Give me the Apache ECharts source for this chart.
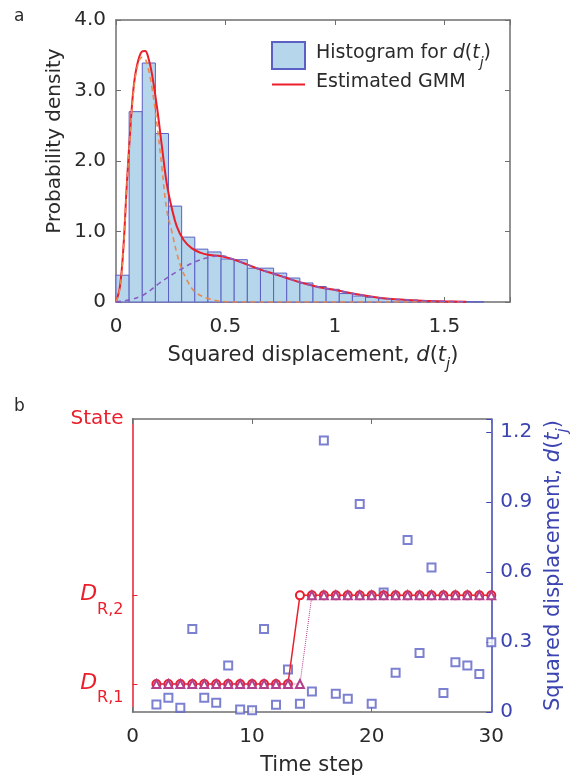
<!DOCTYPE html>
<html><head><meta charset="utf-8">
<script src="https://cdn.jsdelivr.net/npm/echarts@6/dist/echarts.min.js"></script>
<style>html,body{margin:0;padding:0;background:#fff}#c{width:579px;height:777px}</style>
</head><body><div id="c"></div>
<script>
// ---------- Panel a data ----------
const binWidth = 0.06;
const histValues = [0.38, 2.70, 3.39, 2.39, 1.36, 0.92, 0.75, 0.71, 0.61, 0.60, 0.48, 0.48, 0.41, 0.34, 0.27,
                    0.22, 0.18, 0.12, 0.085, 0.066, 0.047, 0.035, 0.025, 0.02, 0.012, 0.008, 0.005, 0.004];
const gmmX     = [0, 0.018, 0.034, 0.049, 0.064, 0.079, 0.095, 0.118, 0.133, 0.148, 0.164, 0.187, 0.21, 0.232, 0.255, 0.278, 0.309, 0.347, 0.385, 0.42, 0.48, 0.54, 0.60, 0.66, 0.72, 0.78, 0.84, 0.90, 0.96, 1.0, 1.1, 1.2, 1.3, 1.4, 1.5, 1.6];
const gmmTotal = [0, 0.22, 0.78, 1.64, 2.39, 3.0, 3.34, 3.55, 3.56, 3.46, 3.24, 2.77, 2.20, 1.68, 1.33, 1.07, 0.88, 0.76, 0.70, 0.67, 0.65, 0.60, 0.53, 0.46, 0.40, 0.34, 0.28, 0.23, 0.19, 0.17, 0.11, 0.06, 0.035, 0.018, 0.008, 0.002];
const comp1X = [0, 0.018, 0.034, 0.049, 0.064, 0.079, 0.095, 0.118, 0.133, 0.148, 0.164, 0.187, 0.21, 0.232, 0.255, 0.278, 0.30, 0.324, 0.35, 0.37, 0.42, 0.48, 0.55, 0.8, 1.2, 1.6];
const comp1Y = [0, 0.2, 0.75, 1.6, 2.35, 2.95, 3.3, 3.47, 3.45, 3.3, 3.05, 2.53, 1.9, 1.30, 1.0, 0.69, 0.47, 0.31, 0.18, 0.12, 0.05, 0.01, 0, 0, 0, 0];
const comp2X = [0, 0.06, 0.125, 0.2, 0.278, 0.355, 0.42, 0.48, 0.54, 0.60, 0.66, 0.72, 0.78, 0.84, 0.90, 0.96, 1.0, 1.1, 1.2, 1.3, 1.4, 1.5, 1.6];
const comp2Y = [0, 0.03, 0.1, 0.27, 0.43, 0.56, 0.63, 0.655, 0.60, 0.53, 0.46, 0.40, 0.34, 0.28, 0.23, 0.19, 0.17, 0.11, 0.06, 0.035, 0.018, 0.008, 0.002];

// ---------- Panel b data ----------
const timeSteps = [2,3,4,5,6,7,8,9,10,11,12,13,14,15,16,17,18,19,20,21,22,23,24,25,26,27,28,29,30];
const dispValues = [0.032, 0.061, 0.018, 0.356, 0.061, 0.040, 0.199, 0.011, 0.007, 0.356, 0.031, 0.182, 0.035, 0.088,
                    1.164, 0.078, 0.057, 0.892, 0.035, 0.512, 0.168, 0.737, 0.253, 0.619, 0.081, 0.213, 0.199, 0.163, 0.299];
const stateLevels = [0.12, 0.50];           // D_R,1 , D_R,2
const stateA = [0,0,0,0,0,0,0,0,0,0,0,0,1,1,1,1,1,1,1,1,1,1,1,1,1,1,1,1,1]; // circles
const stateB = [0,0,0,0,0,0,0,0,0,0,0,0,0,1,1,1,1,1,1,1,1,1,1,1,1,1,1,1,1]; // triangles

const FONT = 'DejaVu Sans';
const DARK = '#2a2a2a', AXIS = '#6f6f6f', RED = '#ea1f2b', BLUE = '#3b44b0', SQ = '#5b60c4';
const zip = (a, b) => a.map((v, i) => [v, b[i]]);

const subRich = (size, color) => ({
  n: {fontFamily: FONT, fontSize: size, color: color, lineHeight: size + 4, verticalAlign: 'top'},
  i: {fontFamily: FONT, fontSize: size, color: color, fontStyle: 'italic', lineHeight: size + 4, verticalAlign: 'top'},
  s: {fontFamily: FONT, fontSize: Math.round(size * 0.72), color: color, fontStyle: 'italic', lineHeight: Math.round(size * 0.72), verticalAlign: 'top', padding: [Math.round(size * 0.62), 0, 0, 0]}
});
const dtj = '{i|d}{n|(}{i|t}{s|j}{n|)}';
const frameLine = c => ({show: true, onZero: false, lineStyle: {color: c, width: 1.5}});
const LINE_ICON = 'path://M0,0 L0.01,0 L0.01,0.01 Z M0,12.5 L33,12.5 L33,14.5 L0,14.5 Z M32.99,27 L33,27 L33,26.99 Z';

const chart = echarts.init(document.getElementById('c'));
const option = {
  backgroundColor: '#fff',
  animation: false,
  textStyle: {fontFamily: FONT},
  grid: [
    {left: 116, right: 69, top: 20, bottom: 475},
    {left: 132.5, right: 80.5, top: 419, bottom: 64.5}
  ],
  legend: {
    orient: 'vertical', left: 266, top: 36, itemWidth: 33, itemHeight: 27, itemGap: 1,
    data: [{name: 'hist', icon: 'rect'}, {name: 'Estimated GMM', icon: LINE_ICON, itemStyle: {color: RED}}],
    formatter: n => n === 'hist' ? '{n|Histogram for }' + dtj : '{n|Estimated GMM}',
    textStyle: {padding: [0, 0, 0, 6], rich: subRich(19, DARK)}
  },
  graphic: [
    {type: 'text', left: 14, top: 8, style: {text: 'a', font: '17px "DejaVu Sans"', fill: DARK}},
    {type: 'text', left: 14, top: 398, style: {text: 'b', font: '17px "DejaVu Sans"', fill: DARK}},
    {type: 'text', x: 55, y: 141, rotation: Math.PI / 2,
     style: {text: 'Probability density', font: '20px "DejaVu Sans"', fill: DARK, align: 'center', verticalAlign: 'middle'}}
  ],
  xAxis: [
    {type: 'value', gridIndex: 0, min: 0, max: 1.8, interval: 0.5,
     axisLine: frameLine(AXIS),
     axisTick: {inside: true, length: 5, lineStyle: {color: AXIS}},
     splitLine: {show: false},
     axisLabel: {fontFamily: FONT, fontSize: 20, color: DARK, margin: 15,
                 formatter: v => (Math.abs(v * 2 - Math.round(v * 2)) < 1e-6 ? String(v) : '')},
     name: '{n|Squared displacement, }' + dtj, nameLocation: 'middle', nameGap: 43,
     nameTextStyle: {rich: subRich(21, DARK)}},
    {type: 'value', gridIndex: 0, position: 'top', min: 0, max: 1.8, interval: 0.5,
     axisLine: frameLine(AXIS),
     axisTick: {inside: true, length: 5, lineStyle: {color: AXIS}},
     axisLabel: {show: false}, splitLine: {show: false}},
    {type: 'value', gridIndex: 1, min: 0, max: 30, interval: 10,
     axisLine: frameLine(AXIS),
     axisTick: {inside: true, length: 5, lineStyle: {color: AXIS}},
     splitLine: {show: false},
     axisLabel: {fontFamily: FONT, fontSize: 20, color: DARK, margin: 15},
     name: 'Time step', nameLocation: 'middle', nameGap: 43,
     nameTextStyle: {fontFamily: FONT, fontSize: 21, color: DARK}},
    {type: 'value', gridIndex: 1, position: 'top', min: 0, max: 30, interval: 10,
     axisLine: frameLine(AXIS),
     axisTick: {inside: true, length: 5, lineStyle: {color: AXIS}},
     axisLabel: {show: false}, splitLine: {show: false}}
  ],
  yAxis: [
    {type: 'value', gridIndex: 0, min: 0, max: 4, interval: 1,
     axisLine: frameLine(AXIS),
     axisTick: {show: true, inside: true, length: 5, lineStyle: {color: AXIS}},
     splitLine: {show: false},
     axisLabel: {fontFamily: FONT, fontSize: 20, color: DARK, margin: 10,
                 formatter: v => v === 0 ? '0' : v.toFixed(1)}},
    {type: 'value', gridIndex: 0, position: 'right', min: 0, max: 4, interval: 1,
     axisLine: frameLine(AXIS),
     axisTick: {show: true, inside: true, length: 5, lineStyle: {color: AXIS}},
     axisLabel: {show: false}, splitLine: {show: false}},
    {type: 'value', gridIndex: 1, min: 0, max: 1.256,
     axisLine: frameLine(RED),
     axisTick: {show: true, inside: true, length: 5, customValues: stateLevels, lineStyle: {color: RED}},
     splitLine: {show: false},
     axisLabel: {margin: 9, customValues: [stateLevels[0], stateLevels[1], 1.256],
                 formatter: v => v > 1 ? '{n|State}' : (v < 0.3 ? '{i|D}{s|R,1}' : '{i|D}{s|R,2}'),
                 rich: {
                   n: {fontFamily: FONT, fontSize: 20, color: RED},
                   i: {fontFamily: FONT, fontSize: 22, color: RED, fontStyle: 'italic', lineHeight: 24, verticalAlign: 'top'},
                   s: {fontFamily: FONT, fontSize: 16, color: RED, lineHeight: 16, verticalAlign: 'top', padding: [18, 0, 0, 0]}
                 }}},
    {type: 'value', gridIndex: 1, position: 'right', min: 0, max: 1.256, interval: 0.3,
     axisLine: frameLine(BLUE),
     axisTick: {show: true, inside: true, length: 5, lineStyle: {color: BLUE}},
     splitLine: {show: false},
     axisLabel: {fontFamily: FONT, fontSize: 20, color: BLUE, margin: 9,
                 formatter: v => { const k = v / 0.3; return Math.abs(k - Math.round(k)) < 1e-6 ? (v === 0 ? '0' : v.toFixed(1)) : ''; }},
     name: '{n|Squared displacement, }' + dtj, nameLocation: 'middle', nameGap: 51,
     nameTextStyle: {rich: subRich(21, BLUE)}}
  ],
  series: [
    {name: 'hist', type: 'custom', xAxisIndex: 0, yAxisIndex: 0,
     itemStyle: {color: '#b6d6ec', borderColor: SQ, borderWidth: 1},
     data: histValues.map((v, i) => [i * binWidth, (i + 1) * binWidth, v]),
     renderItem: (params, api) => {
       const p0 = api.coord([api.value(0), api.value(2)]);
       const p1 = api.coord([api.value(1), 0]);
       return {type: 'rect', shape: {x: p0[0], y: p0[1], width: p1[0] - p0[0], height: p1[1] - p0[1]},
               style: {fill: '#b6d6ec', stroke: SQ, lineWidth: 1}};
     }},
    {name: 'Estimated GMM', type: 'line', xAxisIndex: 0, yAxisIndex: 0, symbol: 'none', smooth: 0.4,
     lineStyle: {color: RED, width: 2}, itemStyle: {color: RED}, data: zip(gmmX, gmmTotal), z: 3},
    {name: 'comp1', type: 'line', xAxisIndex: 0, yAxisIndex: 0, symbol: 'none', smooth: 0.4,
     lineStyle: {color: '#e8894e', width: 1.6, type: [5, 4]}, data: zip(comp1X, comp1Y), z: 4},
    {name: 'comp2', type: 'line', xAxisIndex: 0, yAxisIndex: 0, symbol: 'none', smooth: 0.4,
     lineStyle: {color: '#8a5cc2', width: 1.6, type: [5, 4]}, data: zip(comp2X, comp2Y), z: 4},

    {name: 'disp', type: 'scatter', xAxisIndex: 2, yAxisIndex: 3, symbol: 'emptyRect', symbolSize: 8,
     itemStyle: {color: SQ, borderColor: SQ, borderWidth: 1}, data: zip(timeSteps, dispValues), z: 2},
    {name: 'stateA', type: 'line', xAxisIndex: 2, yAxisIndex: 2, symbol: 'emptyCircle', symbolSize: 8,
     lineStyle: {color: RED, width: 1.5}, itemStyle: {color: RED, borderWidth: 1.5},
     data: timeSteps.map((t, i) => [t, stateLevels[stateA[i]]]), z: 3},
    {name: 'stateB', type: 'line', xAxisIndex: 2, yAxisIndex: 2, symbol: 'emptyTriangle', symbolSize: 8,
     lineStyle: {color: '#b2408c', width: 1, type: 'dotted'}, itemStyle: {color: '#b2408c', borderWidth: 1.2},
     data: timeSteps.map((t, i) => [t, stateLevels[stateB[i]]]), z: 4}
  ]
};
chart.setOption(option);
</script>
</body></html>
